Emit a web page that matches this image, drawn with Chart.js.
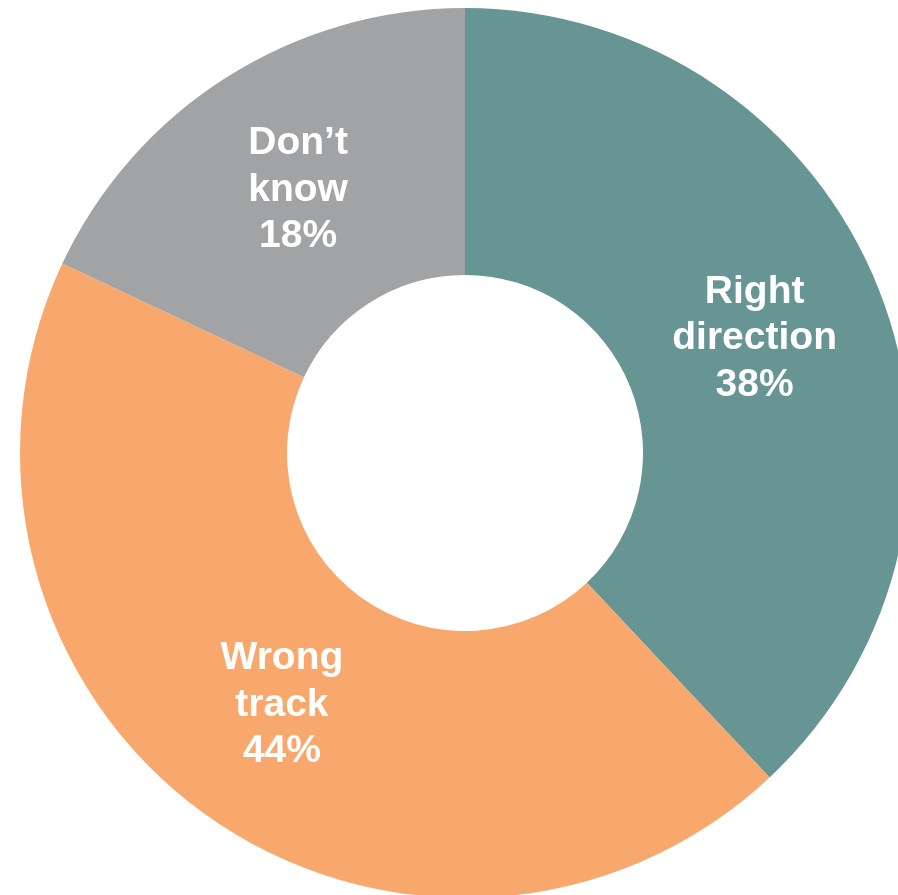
<!DOCTYPE html>
<html>
<head>
<meta charset="utf-8">
<script src="https://cdn.jsdelivr.net/npm/chart.js@4.4.0/dist/chart.umd.min.js"></script>
<style>
  html, body { margin: 0; padding: 0; background: #ffffff; overflow: hidden; width: 898px; height: 895px; }
  #wrap { position: absolute; left: 20px; top: 8px; width: 890px; height: 890px; }
</style>
</head>
<body>
<div id="wrap"><canvas id="cvs_rumo"></canvas></div>
<script>
// dados
const categorias = [["Right", "direction"], ["Wrong", "track"], ["Don’t", "know"]];
const valores = [38, 44, 18];
const cores = ["#679594", "#F8A86C", "#A2A3A5"];

// rótulos brancos no meio de cada fatia
const rotulosFatia = {
  id: "rotulosFatia",
  afterDatasetsDraw(chart) {
    const ctx = chart.ctx;
    const meta = chart.getDatasetMeta(0);
    ctx.save();
    ctx.fillStyle = "#ffffff";
    ctx.font = "bold 39px 'Liberation Sans', Arial, sans-serif";
    ctx.textAlign = "center";
    ctx.textBaseline = "middle";
    meta.data.forEach((arco, i) => {
      const pos = arco.tooltipPosition();
      const linhas = categorias[i].concat([valores[i] + "%"]);
      const alturaLinha = 46.5;
      const inicio = pos.y - alturaLinha * (linhas.length - 1) / 2;
      linhas.forEach((txt, j) => {
        ctx.fillText(txt, pos.x, inicio + j * alturaLinha);
      });
    });
    ctx.restore();
  },
};

new Chart(document.getElementById("cvs_rumo"), {
  type: "doughnut",
  data: {
    labels: categorias.map((c) => c.join(" ")),
    datasets: [
      {
        data: valores,
        backgroundColor: cores,
        borderWidth: 0,
        hoverOffset: 0,
      },
    ],
  },
  options: {
    responsive: true,
    maintainAspectRatio: false,
    animation: false,
    cutout: "40%",
    layout: { padding: 0 },
    plugins: { legend: { display: false }, tooltip: { enabled: false } },
  },
  plugins: [rotulosFatia],
});
</script>
</body>
</html>
